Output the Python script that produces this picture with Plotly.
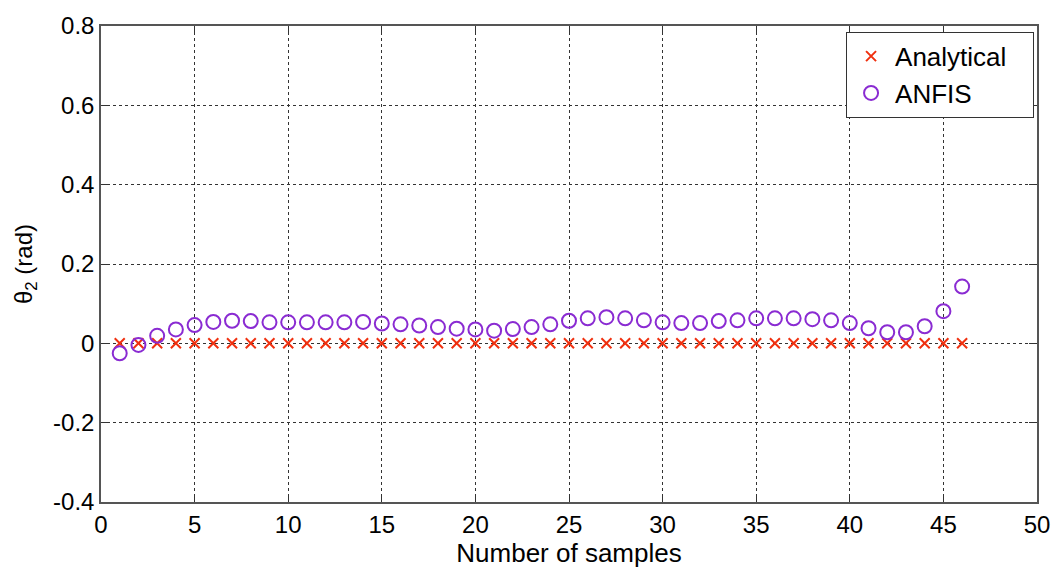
import plotly.graph_objects as go

samples = list(range(1, 47))
analytical = [0.0] * 46
anfis = [-0.025, -0.004, 0.019, 0.035, 0.046, 0.054, 0.057, 0.056, 0.053, 0.053,
         0.053, 0.053, 0.053, 0.054, 0.050, 0.048, 0.045, 0.041, 0.037, 0.035,
         0.032, 0.036, 0.041, 0.048, 0.057, 0.063, 0.066, 0.063, 0.058, 0.053,
         0.051, 0.051, 0.056, 0.058, 0.063, 0.063, 0.063, 0.061, 0.058, 0.051,
         0.038, 0.028, 0.028, 0.043, 0.081, 0.143]

x_ticks = [0, 5, 10, 15, 20, 25, 30, 35, 40, 45, 50]
y_ticks = [-0.4, -0.2, 0, 0.2, 0.4, 0.6, 0.8]
y_tick_text = ["-0.4", "-0.2", "0", "0.2", "0.4", "0.6", "0.8"]

FONT = "Liberation Sans, Arial, sans-serif"
PAD = "\u00a0\u00a0\u00a0"

fig = go.Figure()
fig.add_trace(go.Scatter(
    x=samples, y=analytical, mode="markers", name="Analytical" + PAD,
    marker=dict(symbol="x-thin-open", size=10, color="#f0300f",
                line=dict(color="#f0300f", width=2)),
))
fig.add_trace(go.Scatter(
    x=samples, y=anfis, mode="markers", name="ANFIS",
    marker=dict(symbol="circle-open", size=14, color="#8a2bd2",
                line=dict(color="#8a2bd2", width=2)),
))

axis_common = dict(
    showgrid=True, gridcolor="#333333", griddash="3px,3px", gridwidth=1,
    showline=True, linecolor="#555555", linewidth=1.5, mirror="ticks",
    ticks="inside", ticklen=8, tickcolor="#333333",
    zeroline=False, tickfont=dict(family=FONT, size=24, color="black"),
)

fig.update_xaxes(range=[0, 50], tickvals=x_ticks, ticktext=[str(v) for v in x_ticks],
                 title=dict(text="Number of samples", font=dict(family=FONT, size=26, color="black"), standoff=0),
                 **axis_common)
fig.update_yaxes(range=[-0.4, 0.8], tickvals=y_ticks, ticktext=y_tick_text,
                 title=dict(text="θ<sub>2</sub> (rad)", font=dict(family=FONT, size=24, color="black"), standoff=14),
                 **axis_common)

fig.update_layout(
    width=1062, height=570,
    margin=dict(l=101, r=19, t=21, b=68),
    plot_bgcolor="white", paper_bgcolor="white",
    showlegend=True,
    legend=dict(x=0.796, y=0.988, xanchor="left", yanchor="top",
                bgcolor="white", bordercolor="#333333", borderwidth=1,
                font=dict(family=FONT, size=26, color="black"),
                itemwidth=38, tracegroupgap=0),
)

fig.write_html("out.html")
